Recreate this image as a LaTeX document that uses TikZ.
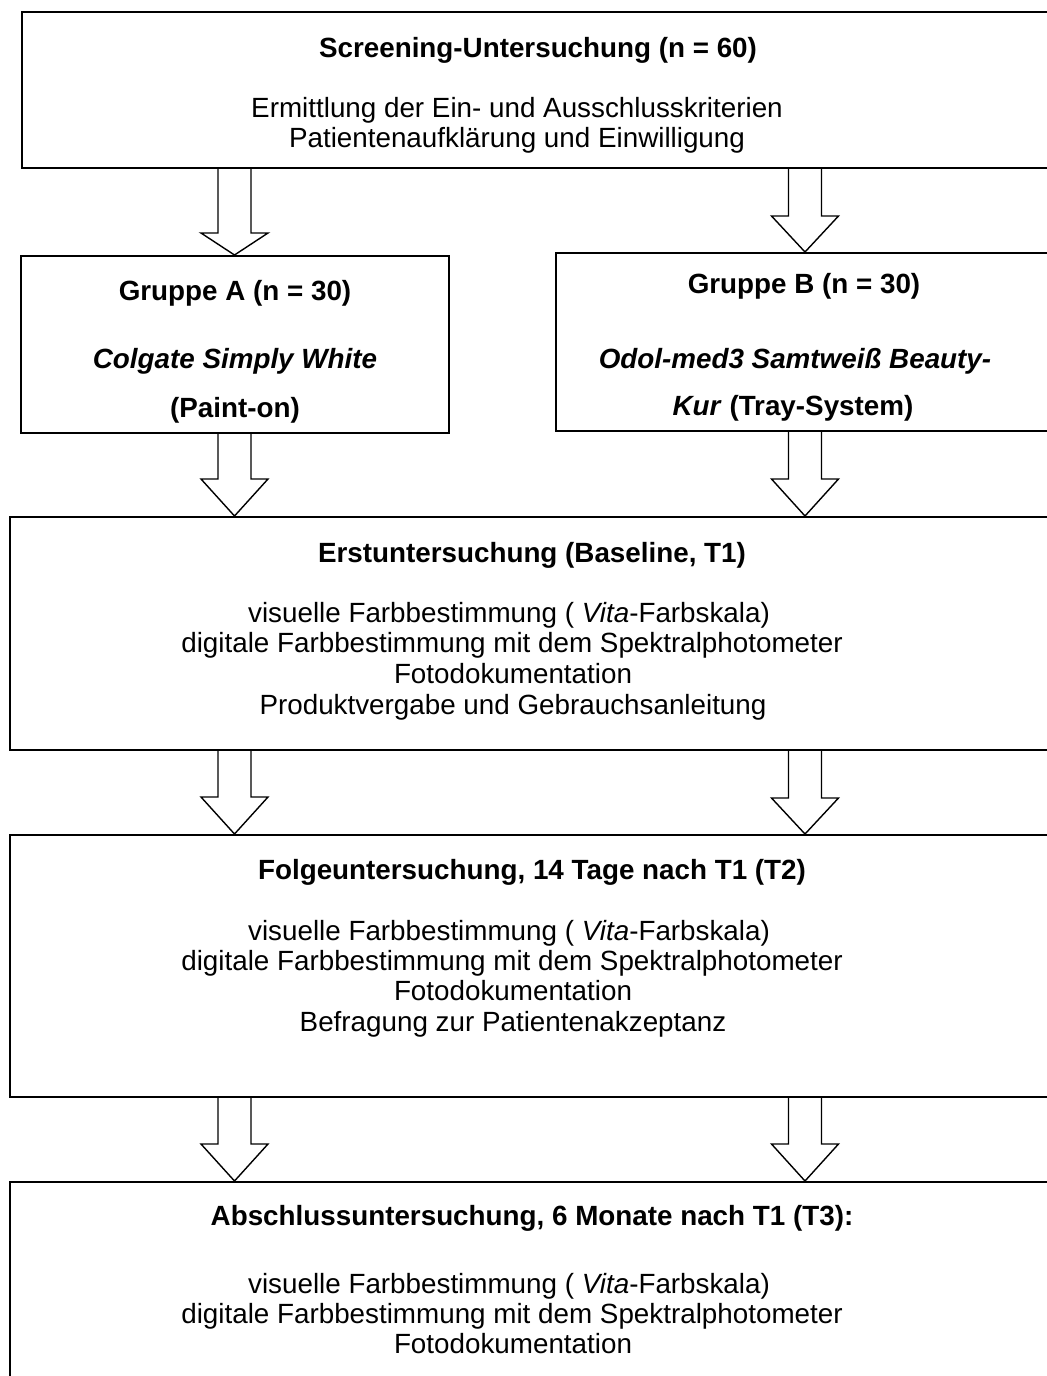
\documentclass[tikz,border=0pt]{standalone}
\usepackage{fontspec}
\setmainfont{Liberation Sans}
\usetikzlibrary{calc}
\newcommand\fatarrow[4]{%
  \draw[arr] let \p1=(#2.south), \p2=(#3.north) in
   ({(#1-16.5)*0.5pt}, \y1) -- ({(#1-16.5)*0.5pt}, {\y2+#4*0.5pt}) --
   ({(#1-33.5)*0.5pt}, {\y2+#4*0.5pt}) -- ({#1*0.5pt}, \y2) --
   ({(#1+33.5)*0.5pt}, {\y2+#4*0.5pt}) -- ({(#1+16.5)*0.5pt}, {\y2+#4*0.5pt}) --
   ({(#1+16.5)*0.5pt}, \y1);
}
\begin{document}
\begin{tikzpicture}[x=0.5pt,y=-0.5pt,
  box/.style={draw, line width=1pt, rectangle, inner sep=0pt},
  arr/.style={draw, line width=0.7pt, line join=miter, fill=white},
  ttl/.style={anchor=base, font=\fontsize{13.9}{15}\selectfont\bfseries, inner sep=0pt},
  txt/.style={anchor=base, font=\fontsize{13.9}{15}\selectfont, inner sep=0pt}]
\fill[white] (0,0) rectangle (1047,1376);
\useasboundingbox (0,0) rectangle (1047,1376);
\clip (0,0) rectangle (1047,1376);
% boxes
\node[box, minimum width=524pt, minimum height=78pt] (scr) at (546,90) {};
\node[box, minimum width=214pt, minimum height=88.5pt] (ga) at (235,344.5) {};
\node[box, minimum width=252pt, minimum height=89pt] (gb) at (808,342) {};
\node[box, minimum width=525pt, minimum height=116.5pt] (erst) at (535,633.5) {};
\node[box, minimum width=525pt, minimum height=131pt] (folge) at (535,966) {};
\node[box, minimum width=525pt, minimum height=109pt] (absch) at (535,1291) {};
% arrows
\fatarrow{234.5}{scr}{ga}{22}
\fatarrow{805}{scr}{gb}{36}
\fatarrow{234.5}{ga}{erst}{37}
\fatarrow{805}{gb}{erst}{37}
\fatarrow{234.5}{erst}{folge}{37}
\fatarrow{805}{erst}{folge}{36}
\fatarrow{234.5}{folge}{absch}{37}
\fatarrow{805}{folge}{absch}{37}
% texts: screening
\node[ttl] (s1) at (538,57) {Screening-Untersuchung (n = 60)};
\node[txt] (s2) at (517,117) {Ermittlung der Ein- und Ausschlusskriterien};
\node[txt] (s3) at (517,147) {Patientenaufklärung und Einwilligung};
% group A
\node[ttl] (a1) at (235,300) {Gruppe A (n = 30)};
\node[ttl] (a2) at (235,368) {\itshape Colgate Simply White};
\node[ttl] (a3) at (235,417) {(Paint-on)};
% group B
\node[ttl] (b1) at (804,293) {Gruppe B (n = 30)};
\node[ttl] (b2) at (795,368) {\itshape Odol-med3 Samtweiß Beauty-};
\node[ttl] (b3) at (793,415) {\textit{Kur} (Tray-System)};
% Erstuntersuchung
\node[ttl] (e1) at (532,562) {Erstuntersuchung (Baseline, T1)};
\node[txt] (e2) at (509,622) {visuelle Farbbestimmung ( \textit{Vita}-Farbskala)};
\node[txt] (e3) at (512,652) {digitale Farbbestimmung mit dem Spektralphotometer};
\node[txt] (e4) at (513,683) {Fotodokumentation};
\node[txt] (e5) at (513,714) {Produktvergabe und Gebrauchsanleitung};
% Folgeuntersuchung
\node[ttl] (f1) at (532,879) {Folgeuntersuchung, 14 Tage nach T1 (T2)};
\node[txt] (f2) at (509,940) {visuelle Farbbestimmung ( \textit{Vita}-Farbskala)};
\node[txt] (f3) at (512,970) {digitale Farbbestimmung mit dem Spektralphotometer};
\node[txt] (f4) at (513,1000) {Fotodokumentation};
\node[txt] (f5) at (513,1031) {Befragung zur Patientenakzeptanz};
% Abschluss
\node[ttl] (x1) at (532,1225) {Abschlussuntersuchung, 6 Monate nach T1 (T3):};
\node[txt] (x2) at (509,1293) {visuelle Farbbestimmung ( \textit{Vita}-Farbskala)};
\node[txt] (x3) at (512,1323) {digitale Farbbestimmung mit dem Spektralphotometer};
\node[txt] (x4) at (513,1353) {Fotodokumentation};
\end{tikzpicture}
\end{document}
